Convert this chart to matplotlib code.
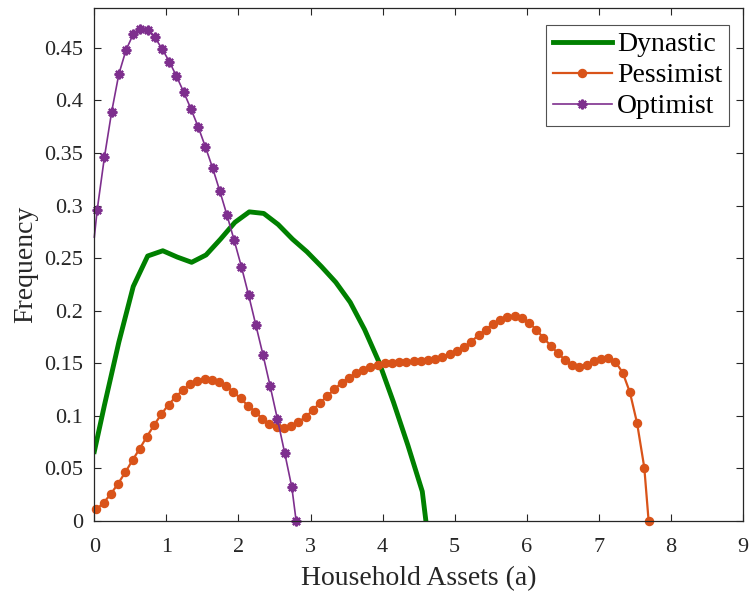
import matplotlib
matplotlib.use("Agg")
import matplotlib.pyplot as plt
from matplotlib.ticker import FuncFormatter

plt.rcParams['font.family'] = ['Liberation Serif', 'DejaVu Serif']

# Dynastic (thick green line)
dyn_x = [0, 0.14, 0.34, 0.54, 0.74, 0.95, 1.15, 1.35, 1.55, 1.75, 1.95, 2.15, 2.35,
         2.55, 2.75, 2.95, 3.15, 3.35, 3.55, 3.75, 3.95, 4.15, 4.35, 4.55, 4.60]
dyn_y = [0.066, 0.110, 0.170, 0.223, 0.252, 0.257, 0.251, 0.246, 0.253, 0.268, 0.284,
         0.294, 0.2925, 0.282, 0.268, 0.256, 0.242, 0.227, 0.208, 0.182, 0.151, 0.113,
         0.072, 0.028, 0.0]

# Pessimist (orange, circles)
pes_x = [0.03, 0.13, 0.23, 0.33, 0.43, 0.53, 0.63, 0.73, 0.83, 0.93,
         1.03, 1.13, 1.23, 1.33, 1.43, 1.53, 1.63, 1.73, 1.83, 1.93,
         2.03, 2.13, 2.23, 2.33, 2.43, 2.53, 2.63, 2.73, 2.83, 2.93,
         3.03, 3.13, 3.23, 3.33, 3.43, 3.53, 3.63, 3.73, 3.83, 3.93,
         4.03, 4.13, 4.23, 4.33, 4.43, 4.53, 4.63, 4.73, 4.83, 4.93,
         5.03, 5.13, 5.23, 5.33, 5.43, 5.53, 5.63, 5.73, 5.83, 5.93,
         6.03, 6.13, 6.23, 6.33, 6.43, 6.53, 6.63, 6.73, 6.83, 6.93,
         7.03, 7.13, 7.23, 7.33, 7.43, 7.53, 7.63, 7.69]
pes_y = [0.011, 0.0174, 0.0257, 0.0355, 0.0463, 0.0577, 0.0688, 0.0802, 0.0913, 0.1015,
         0.1107, 0.118, 0.1246, 0.130, 0.1332, 0.1348, 0.1345, 0.1323, 0.128, 0.1227,
         0.1165, 0.1097, 0.104, 0.0973, 0.0923, 0.0892, 0.0888, 0.0904, 0.0942, 0.0987,
         0.1053, 0.1123, 0.1186, 0.1253, 0.1313, 0.1364, 0.1405, 0.144, 0.1468, 0.1487,
         0.150, 0.1506, 0.1513, 0.1516, 0.152, 0.1525, 0.1532, 0.1544, 0.156, 0.1586,
         0.1615, 0.1655, 0.1706, 0.1767, 0.182, 0.1874, 0.1915, 0.1941, 0.1948, 0.1929,
         0.1887, 0.182, 0.1742, 0.1668, 0.1596, 0.1532, 0.1487, 0.1468, 0.1487, 0.152,
         0.1544, 0.1554, 0.1513, 0.1411, 0.1224, 0.093, 0.0507, 0.0]

# Optimist (purple, asterisks)
opt_x = [0, 0.04, 0.14, 0.24, 0.34, 0.44, 0.54, 0.64, 0.74, 0.84, 0.94,
         1.04, 1.14, 1.24, 1.34, 1.44, 1.54, 1.64, 1.74, 1.84, 1.94,
         2.04, 2.14, 2.24, 2.34, 2.44, 2.54, 2.64, 2.74, 2.80]
opt_y = [0.27, 0.296, 0.346, 0.389, 0.425, 0.448, 0.463, 0.468, 0.467, 0.460, 0.449,
         0.437, 0.423, 0.408, 0.392, 0.375, 0.356, 0.336, 0.314, 0.291, 0.267,
         0.242, 0.215, 0.1865, 0.158, 0.128, 0.097, 0.065, 0.032, 0.0]

fig = plt.figure(figsize=(7.51, 5.96), dpi=100)
ax = fig.add_axes([0.1256, 0.126, 0.8638, 0.8607])

ax.plot(dyn_x, dyn_y, color='#008000', lw=3.5, label='Dynastic')
ax.plot(pes_x, pes_y, color='#D95319', lw=1.6, marker='o', ms=5.8,
        label='Pessimist', clip_on=False)
ax.plot(opt_x, opt_y, color='#7E2F8E', lw=1.2, marker=(8, 2, 0), ms=7, mew=1.6,
        markevery=list(range(1, len(opt_x))), label='Optimist', clip_on=False)

ax.set_xlim(0, 9)
ax.set_ylim(0, 0.488)
ax.set_xticks(range(0, 10))
ax.set_yticks([0, 0.05, 0.1, 0.15, 0.2, 0.25, 0.3, 0.35, 0.4, 0.45])
ax.yaxis.set_major_formatter(FuncFormatter(lambda v, p: '%g' % v))
ax.tick_params(direction='in', length=5, width=0.8, top=True, right=True,
               labelsize=16, colors='#262626')
ax.tick_params(axis='x', pad=12)
ax.tick_params(axis='y', pad=8)
for s in ax.spines.values():
    s.set_color('#262626')
    s.set_linewidth(0.9)

ax.set_xlabel('Household Assets (a)', fontsize=20, color='#262626', labelpad=7)
ax.set_ylabel('Frequency', fontsize=20, color='#262626', labelpad=4)

leg = ax.legend(loc='upper right', bbox_to_anchor=(0.979, 0.967), borderaxespad=0,
                fontsize=20, frameon=True, fancybox=False, handlelength=2.1,
                handletextpad=0.2, borderpad=0.25, labelspacing=0.2)
leg.get_frame().set_edgecolor('#262626')
leg.get_frame().set_linewidth(0.8)

fig.savefig('out.png', dpi=100)
